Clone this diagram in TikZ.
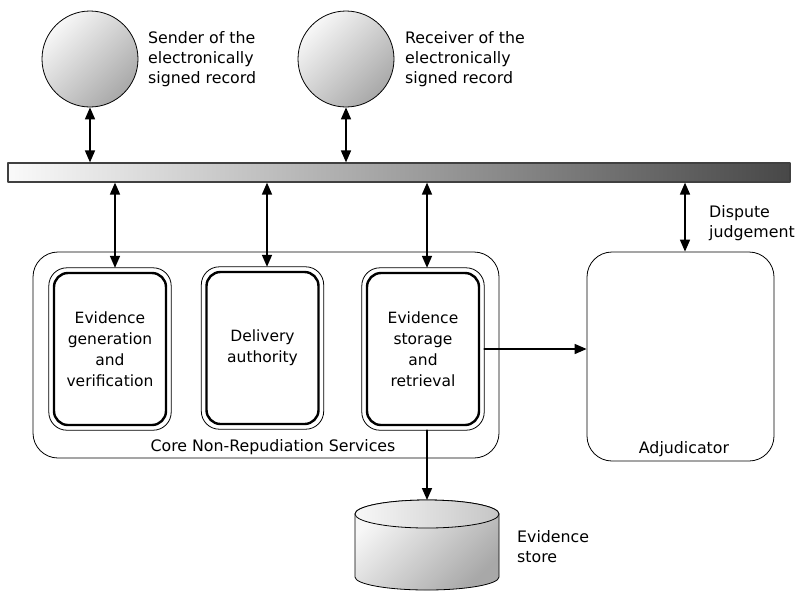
\documentclass[tikz,border=0pt]{standalone}
\usepackage{fontspec}
\setmainfont{DejaVu Sans}
\usetikzlibrary{arrows, arrows.meta, calc, positioning}

\begin{document}
\begin{tikzpicture}[line cap=round,line join=round,>={Triangle[length=12pt,width=10pt]},x=1pt,y=-1pt,
  every node/.style={font=\fontsize{15.8}{20}\selectfont},
  party/.style={circle, draw, line width=0.8pt, minimum size=96pt, inner sep=0pt,
    top color=gray!6, bottom color=gray!68, shading angle=45},
  bus/.style={draw=black!75, line width=1.2pt, minimum width=782pt, minimum height=19pt,
    inner sep=0pt, left color=gray!4, right color=black!72},
  svcbox/.style={draw, line width=2.4pt, rounded corners=14pt, minimum width=112pt,
    minimum height=152pt, align=center, inner sep=2pt, font=\fontsize{15.5}{21}\selectfont},
  groupbox/.style={draw, line width=0.8pt, rounded corners=25pt, inner sep=0pt},
  note/.style={anchor=west, align=left, inner sep=0pt},
  link/.style={line width=1.6pt}]
\useasboundingbox (0,0) rectangle (799,590);

% Teilnehmer
\node[party] (snd) at (90,59) {};
\node[party] (rcv) at (346,59) {};
\node[note] (sndlbl) at (148,59) {Sender of the\\electronically\\signed record};
\node[note] (rcvlbl) at (405,59) {Receiver of the\\electronically\\signed record};

% Kommunikationsbus
\node[bus] (bus) at (399,172.5) {};

% Kerndienste
\node[groupbox, minimum width=466pt, minimum height=206pt] (core) at (266,355) {};
\node (corelbl) at (273,447) {Core Non-Repudiation Services};

\node[svcbox] (ev) at (110,349) {Evidence\\generation\\and\\verification};
\node[svcbox] (del) at (262.5,348) {Delivery\\authority};
\node[svcbox] (st) at (423,349) {Evidence\\storage\\and\\retrieval};

% duenne Aussenlinie der Dienste
\foreach \n in {ev,del,st}
  \draw [line width=0.8pt, rounded corners=18pt] ([shift={(-4pt,4pt)}]\n.north west) rectangle ([shift={(4pt,-4pt)}]\n.south east);

% Schlichter
\node[groupbox, minimum width=187pt, minimum height=209pt] (adj) at (680.5,356.5) {};
\node (adjlbl) at (684,449) {Adjudicator};
\node[note] (displbl) at (709,223) {Dispute\\judgement};

% Beweisspeicher
\shade [draw, line width=0.8pt, top color=gray!6, bottom color=gray!68, shading angle=45]
  (355,514) -- (355,577) arc [start angle=180, end angle=0, x radius=72, y radius=13]
  -- (499,514) arc [start angle=0, end angle=-180, x radius=72, y radius=14] -- cycle;
\shade [draw, line width=0.8pt, left color=gray!6, right color=gray!45] (427,514) ellipse [x radius=72, y radius=14];
\coordinate (dbtop) at (427,500);
\node[note] (dblbl) at (517,547) {Evidence\\store};

% Verbindungen
\draw [link, <->] (snd.south) -- (snd.south |- bus.north);
\draw [link, <->] (rcv.south) -- (rcv.south |- bus.north);
\draw [link, <->] ([xshift=5pt, yshift=4pt]ev.north) -- ([xshift=5pt]ev.north |- bus.south);
\draw [link, <->] ([xshift=4.5pt, yshift=4pt]del.north) -- ([xshift=4.5pt]del.north |- bus.south);
\draw [link, <->] ([xshift=4pt, yshift=4pt]st.north) -- ([xshift=4pt]st.north |- bus.south);
\draw [link, <->] ([xshift=4.5pt]adj.north) -- ([xshift=4.5pt]adj.north |- bus.south);
\draw [link, ->] ([xshift=4pt]st.east) -- (st.east -| adj.west);
\draw [link, ->] ([xshift=4pt, yshift=-4pt]st.south) -- (dbtop);

\end{tikzpicture}
\end{document}
